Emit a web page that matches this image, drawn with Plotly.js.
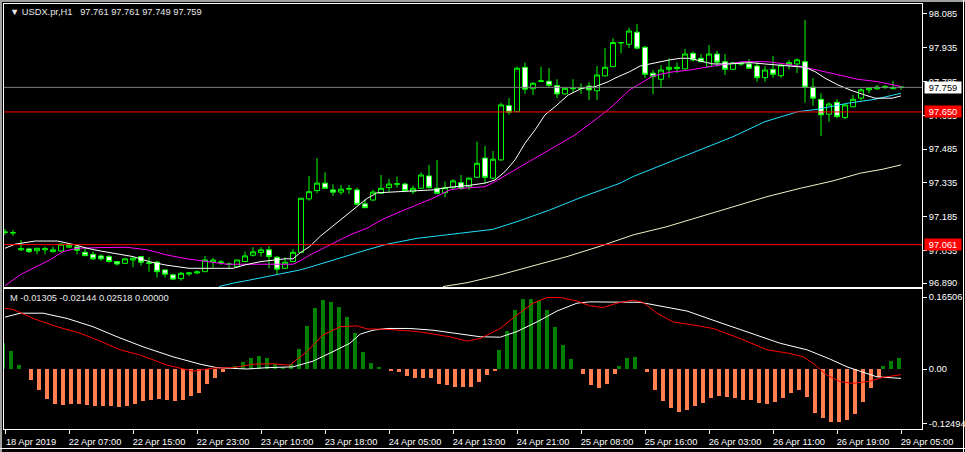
<!DOCTYPE html>
<html><head><meta charset="utf-8">
<script src="https://cdn.plot.ly/plotly-3.0.1.min.js"></script>
<style>html,body{margin:0;padding:0;background:#000;overflow:hidden}#chart{width:965px;height:452px}</style>
</head><body><div id="chart"></div>
<script>
// ---- price data (H1 bars) ----
const opens = [97.115,97.113,97.038,97.042,97.034,97.038,97.030,97.033,97.050,97.051,
97.027,97.018,97.011,97.008,96.986,96.978,96.993,97.008,96.978,96.983,
96.949,96.927,96.910,96.931,96.935,96.941,96.984,96.981,96.973,96.963,
96.986,97.014,97.026,97.038,97.005,96.956,96.986,97.027,97.264,97.301,
97.334,97.304,97.294,97.307,97.304,97.242,97.259,97.289,97.314,97.329,
97.330,97.296,97.311,97.366,97.311,97.292,97.314,97.336,97.318,97.360,
97.445,97.356,97.437,97.678,97.651,97.848,97.753,97.785,97.786,97.767,
97.730,97.753,97.754,97.765,97.744,97.810,97.851,97.956,97.950,98.004,
97.937,97.822,97.795,97.839,97.842,97.841,97.910,97.888,97.851,97.907,
97.873,97.839,97.862,97.863,97.854,97.802,97.839,97.811,97.858,97.863,
97.873,97.760,97.706,97.640,97.693,97.625,97.673,97.711,97.748,97.753,
97.758,97.753,97.761];
const highs = [97.131,97.126,97.082,97.048,97.045,97.052,97.052,97.067,97.067,97.057,
97.045,97.030,97.018,97.015,96.989,97.001,97.005,97.011,97.005,96.989,
96.951,96.931,96.940,96.940,96.947,97.011,97.003,96.993,96.983,96.993,
97.030,97.050,97.050,97.055,97.011,97.005,97.041,97.268,97.366,97.445,
97.382,97.329,97.326,97.326,97.314,97.263,97.304,97.370,97.353,97.363,
97.336,97.322,97.382,97.415,97.437,97.341,97.351,97.370,97.360,97.518,
97.499,97.477,97.691,97.711,97.851,97.869,97.783,97.851,97.844,97.795,
97.756,97.795,97.777,97.782,97.854,97.933,97.977,97.961,98.024,98.041,
97.943,97.836,97.858,97.888,97.869,97.930,97.918,97.907,97.947,97.921,
97.907,97.873,97.873,97.884,97.876,97.854,97.899,97.863,97.881,97.888,
98.058,97.800,97.733,97.693,97.706,97.685,97.725,97.755,97.758,97.770,
97.770,97.788,97.761];
const lows = [97.104,97.100,97.033,97.024,97.018,97.018,97.026,97.030,97.045,97.018,
97.012,96.993,96.990,96.981,96.968,96.975,96.961,96.968,96.941,96.915,
96.915,96.904,96.901,96.922,96.931,96.940,96.959,96.971,96.953,96.962,
96.984,97.008,97.008,96.956,96.931,96.953,96.984,97.024,97.256,97.289,
97.310,97.278,97.282,97.286,97.237,97.225,97.256,97.288,97.296,97.314,
97.294,97.286,97.310,97.311,97.286,97.271,97.304,97.304,97.304,97.359,
97.334,97.351,97.434,97.637,97.650,97.730,97.725,97.782,97.762,97.711,
97.729,97.736,97.730,97.703,97.703,97.807,97.850,97.910,97.935,97.928,
97.800,97.729,97.760,97.802,97.822,97.839,97.873,97.873,97.850,97.851,
97.814,97.836,97.854,97.844,97.784,97.784,97.802,97.802,97.839,97.822,
97.691,97.677,97.543,97.606,97.622,97.618,97.672,97.700,97.733,97.748,
97.752,97.752,97.749];
const closes = [97.117,97.114,97.043,97.030,97.045,97.043,97.038,97.063,97.057,97.036,
97.012,96.998,96.998,96.986,96.975,96.998,97.001,96.983,96.980,96.941,
96.930,96.908,96.934,96.935,96.940,96.993,96.993,96.984,96.975,96.993,
97.011,97.029,97.038,97.008,96.952,96.983,97.027,97.267,97.296,97.334,
97.311,97.294,97.307,97.310,97.240,97.225,97.294,97.311,97.330,97.331,
97.301,97.311,97.370,97.314,97.289,97.314,97.344,97.311,97.356,97.422,
97.360,97.440,97.681,97.649,97.844,97.751,97.777,97.788,97.768,97.730,
97.755,97.755,97.755,97.748,97.814,97.848,97.958,97.958,98.009,97.933,
97.817,97.807,97.836,97.848,97.848,97.907,97.881,97.873,97.907,97.871,
97.839,97.869,97.869,97.844,97.802,97.836,97.817,97.858,97.869,97.881,
97.760,97.711,97.637,97.685,97.629,97.681,97.706,97.748,97.755,97.760,
97.762,97.758,97.759];

// ---- moving averages (bar position, price) ----
const maWhiteX = [0,1.25,3.75,6.6,8.75,10.25,11.9,14,16,18,20,23,28.5,30,32,35,36,36.9,38.1,39.4,41,43.1,45.25,46.5,49.4,51.9,53.5,55.6,57.75,60,61.25,62.5,63.75,65,66.25,67.5,68.75,70.4,72.1,73.75,75.4,76.25,78.1,79.4,81,83.1,84.4,85.6,87.25,88.5,90.6,93.1,95.25,97.5,100,101.25,102.5,104.1,105.9,107.5,108.75,110.9,112];
const maWhiteY = [97.045,97.063,97.077,97.077,97.060,97.045,97.033,97.020,97.008,96.986,96.971,96.956,96.956,96.971,96.986,96.998,96.998,97.025,97.053,97.098,97.144,97.207,97.266,97.291,97.296,97.301,97.304,97.316,97.323,97.334,97.348,97.385,97.437,97.511,97.570,97.637,97.673,97.725,97.755,97.762,97.784,97.800,97.829,97.854,97.866,97.881,97.888,97.888,97.873,97.863,97.863,97.869,97.862,97.854,97.848,97.829,97.800,97.770,97.744,97.725,97.711,97.711,97.721];
const maMagentaX = [0,1.9,3.5,5.6,7.25,9,11.9,15.25,17.75,20.25,22.75,25.25,27.75,31,36,36.9,38.1,39.4,41,43.1,45.25,47.25,49.4,51.5,53.5,55.6,56.9,60,61.25,63.75,66.25,68.75,71.25,73.75,75.6,78.1,79.75,81,83.1,85.6,88.1,92.25,95.25,97.5,100,103.4,106.6,109.1,111.6,112];
const maMagentaY = [96.879,96.927,96.956,96.993,97.030,97.045,97.048,97.049,97.038,97.015,96.998,96.986,96.974,96.974,96.974,96.989,97.015,97.038,97.067,97.104,97.134,97.174,97.207,97.237,97.267,97.304,97.311,97.318,97.341,97.393,97.444,97.496,97.548,97.614,97.666,97.748,97.784,97.810,97.826,97.836,97.851,97.873,97.873,97.863,97.848,97.822,97.795,97.784,97.765,97.763];
const maCyanX = [26.75,28.5,30.6,32.75,34.75,36.9,38.1,41.25,45.25,47.75,51.5,54.4,56.9,61,64,68.1,72.25,76.9,78.5,82.75,86.9,91,95,99.1,101.6,105.4,108.75,112];
const maCyanY = [96.875,96.890,96.904,96.919,96.931,96.949,96.961,96.996,97.038,97.063,97.089,97.101,97.112,97.129,97.163,97.215,97.274,97.334,97.363,97.422,97.481,97.540,97.607,97.651,97.662,97.689,97.706,97.733];
const maBeigeX = [54.75,57.75,61.9,66,70.25,74.4,78.5,82.75,86.9,91,95.25,99.4,103.5,106.9,109.75,112];
const maBeigeY = [96.875,96.892,96.927,96.968,97.008,97.054,97.104,97.141,97.185,97.230,97.274,97.311,97.344,97.378,97.396,97.415];

// ---- horizontal levels ----
const levelValues = [97.759, 97.650, 97.061];
const levelLabels = ['97.759', '97.650', '97.061'];

// ---- MACD-style oscillator ----
const histValues = [0.059,0.041,0.009,-0.025,-0.048,-0.069,-0.080,-0.082,-0.080,-0.080,
-0.083,-0.084,-0.084,-0.084,-0.086,-0.084,-0.080,-0.073,-0.070,-0.069,
-0.071,-0.073,-0.071,-0.063,-0.054,-0.034,-0.020,-0.008,0.003,0.007,
0.015,0.025,0.030,0.026,0.011,0.005,0.011,0.046,0.099,0.139,
0.158,0.153,0.142,0.119,0.082,0.038,0.013,0.005,-0.005,-0.006,
-0.015,-0.021,-0.020,-0.020,-0.035,-0.037,-0.041,-0.042,-0.042,-0.030,
-0.014,-0.005,0.044,0.087,0.135,0.161,0.161,0.156,0.135,0.096,
0.055,0.023,-0.011,-0.037,-0.043,-0.034,-0.011,0.007,0.026,0.028,
-0.008,-0.048,-0.073,-0.090,-0.098,-0.094,-0.084,-0.077,-0.066,-0.061,
-0.065,-0.067,-0.070,-0.071,-0.077,-0.080,-0.075,-0.067,-0.056,-0.047,
-0.065,-0.100,-0.113,-0.121,-0.121,-0.118,-0.103,-0.075,-0.044,-0.018,
0.007,0.019,0.02518];
const oscWhiteX = [0,1.9,4.75,7.75,11,14,17.25,21,24.4,26.5,30.25,32.75,36,38.5,41,43.1,44.4,46,47.75,50.6,53.5,56.9,59.4,61.9,64,66.5,69,71.5,73.1,79.4,82.25,85.25,88.5,92.75,96.9,100.25,103.1,105.25,107.25,109,112];
const oscWhiteY = [0.119,0.128,0.128,0.116,0.097,0.074,0.051,0.028,0.011,0.003,0,0.003,0.005,0.018,0.040,0.059,0.080,0.089,0.093,0.093,0.089,0.080,0.074,0.073,0.086,0.108,0.133,0.151,0.154,0.153,0.143,0.133,0.112,0.086,0.059,0.044,0.023,0.005,-0.008,-0.018,-0.02144];
const oscRedX = [0,1,3.5,6.5,9.4,11.9,14.4,16.9,20.25,23.5,26,28.5,31,33.5,35.6,37.75,39.75,41.9,44,45.25,47.75,51.5,55.6,57.75,59.4,61.9,64,66,67.75,69.4,71.5,73.1,74.75,76.5,78.5,79.75,81.5,83.5,86,88.5,91.9,95.25,98,99.75,101,102.75,104.4,106,108.1,109.75,112];
const oscRedY = [0.139,0.137,0.116,0.097,0.082,0.064,0.044,0.032,0.009,-0.005,0.002,0.003,0.011,0.012,0.009,0.040,0.078,0.097,0.099,0.092,0.091,0.086,0.074,0.064,0.070,0.093,0.124,0.151,0.164,0.164,0.156,0.145,0.141,0.151,0.158,0.153,0.128,0.108,0.101,0.093,0.070,0.044,0.036,0.028,0.013,-0.014,-0.029,-0.033,-0.028,-0.019,-0.01305];

// ---- axis labels ----
const timeTickIdx = [0,8,16,24,32,40,48,56,64,72,80,88,96,104,112];
const timeTickText = ['18 Apr 2019','22 Apr 07:00','22 Apr 15:00','22 Apr 23:00','23 Apr 10:00','23 Apr 18:00','24 Apr 05:00','24 Apr 13:00','24 Apr 21:00','25 Apr 08:00','25 Apr 16:00','26 Apr 03:00','26 Apr 11:00','26 Apr 19:00','29 Apr 05:00'];
const priceTicks = [98.085, 97.935, 97.785, 97.635, 97.485, 97.335, 97.185, 97.035, 96.890];
const priceTickText = ['98.085','97.935','97.785','97.635','97.485','97.335','97.185','97.035','96.890'];
const oscTicks = [0.16506, 0, -0.12494];
const oscTickText = ['0.16506','0.00','-0.12494'];
const headerText = '\u25BC USDX.pr,H1\u00A0\u00A0 97.761 97.761 97.749 97.759';
const oscHeaderText = 'M -0.01305 -0.02144 0.02518 0.00000';

// ---- build ----
const W = 965, H = 452;
const FONT = 'Liberation Sans, Arial, sans-serif';
const idx = opens.map((_, i) => i);
const xDom = [4 / W, 922 / W];
const xRange = [-0.125, 114.625];

const traces = [
  {type:'candlestick', x: idx, open: opens, high: highs, low: lows, close: closes,
   xaxis:'x', yaxis:'y', whiskerwidth: 0, hoverinfo:'skip',
   increasing:{line:{color:'#00ff00', width:1}, fillcolor:'#000000'},
   decreasing:{line:{color:'#00ff00', width:1}, fillcolor:'#ffffff'}},
  {type:'scatter', mode:'lines', x: maBeigeX, y: maBeigeY, line:{color:'#f5f0c8', width:1}, xaxis:'x', yaxis:'y'},
  {type:'scatter', mode:'lines', x: maCyanX, y: maCyanY, line:{color:'#22e0ff', width:1}, xaxis:'x', yaxis:'y'},
  {type:'scatter', mode:'lines', x: maMagentaX, y: maMagentaY, line:{color:'#ff00ff', width:1}, xaxis:'x', yaxis:'y'},
  {type:'scatter', mode:'lines', x: maWhiteX, y: maWhiteY, line:{color:'#ffffff', width:1}, xaxis:'x', yaxis:'y'},
  {type:'bar', x: idx, y: histValues.map(v => v > 0 ? v : null), width: 0.45,
   marker:{color:'#008000', line:{width:0}}, xaxis:'x2', yaxis:'y2'},
  {type:'bar', x: idx, y: histValues.map(v => v < 0 ? v : null), width: 0.45,
   marker:{color:'#ff7f50', line:{width:0}}, xaxis:'x2', yaxis:'y2'},
  {type:'scatter', mode:'lines', x: oscWhiteX, y: oscWhiteY, line:{color:'#ffffff', width:1}, xaxis:'x2', yaxis:'y2'},
  {type:'scatter', mode:'lines', x: oscRedX, y: oscRedY, line:{color:'#ff0000', width:1}, xaxis:'x2', yaxis:'y2'}
];

const levelColors = ['#808080', '#ff0000', '#ff0000'];
const shapes = levelValues.map((v, k) => ({
  type:'line', xref:'paper', x0: xDom[0], x1: xDom[1], yref:'y', y0: v, y1: v,
  line:{color: levelColors[k], width:1}, layer:'above'
}));
// window frame
shapes.push({type:'line', xref:'paper', yref:'paper', x0:0, x1:1, y0:1-1/H, y1:1-1/H, line:{color:'#a0a0a0', width:2}});
shapes.push({type:'line', xref:'paper', yref:'paper', x0:1/W, x1:1/W, y0:0, y1:1, line:{color:'#a0a0a0', width:2}});
shapes.push({type:'line', xref:'paper', yref:'paper', x0:963.5/W, x1:963.5/W, y0:0, y1:1, line:{color:'#ffffff', width:1}});
shapes.push({type:'line', xref:'paper', yref:'paper', x0:0, x1:1, y0:1-448.5/H, y1:1-448.5/H, line:{color:'#ffffff', width:1}});

const boxBg = ['#ffffff', '#ff0000', '#ff0000'];
const boxFg = ['#000000', '#ffffff', '#ffffff'];
const annotations = levelValues.map((v, k) => ({
  xref:'paper', x: 924 / W, xanchor:'left', yref:'y', y: v, yanchor:'middle',
  text: levelLabels[k], showarrow:false, bgcolor: boxBg[k], borderpad:0,
  width: 36, height: 11, align:'center',
  font:{family: FONT, size: 9.3, color: boxFg[k]}
}));
annotations.push({xref:'paper', yref:'paper', x: 8 / W, y: 1 - 12 / H, xanchor:'left', yanchor:'middle',
  text: headerText, showarrow:false, font:{family: FONT, size: 9.3, color:'#e8e8e8'}});
annotations.push({xref:'paper', yref:'paper', x: 8 / W, y: 1 - 298 / H, xanchor:'left', yanchor:'middle',
  text: oscHeaderText, showarrow:false, font:{family: FONT, size: 9.3, color:'#e8e8e8'}});

const axBase = {showgrid:false, zeroline:false, showline:true, mirror:true, linecolor:'#ffffff', linewidth:1, fixedrange:true};
const layout = {
  width: W, height: H, paper_bgcolor:'#000000', plot_bgcolor:'#000000',
  margin:{l:0, r:0, t:0, b:0}, showlegend:false, hovermode:false,
  font:{family: FONT, size: 9.3, color:'#ffffff'},
  boxgap: 0.375, boxgroupgap: 0, bargap: 0,
  xaxis: Object.assign({}, axBase, {domain: xDom, range: xRange, anchor:'y', showticklabels:false, ticks:'', rangeslider:{visible:false}}),
  yaxis: Object.assign({}, axBase, {domain:[1 - 287 / H, 1 - 4 / H], range:[96.873, 98.129], anchor:'x', side:'right',
    ticks:'outside', ticklen:4, tickcolor:'#ffffff', tickvals: priceTicks, ticktext: priceTickText,
    tickfont:{family: FONT, size: 9.3, color:'#ffffff'}}),
  xaxis2: Object.assign({}, axBase, {domain: xDom, range: xRange, anchor:'y2', ticks:'outside', ticklen:4, tickcolor:'#ffffff',
    tickvals: timeTickIdx, ticktext: timeTickText, ticklabelshift: 26, tickangle: 0,
    tickfont:{family: FONT, size: 9.3, color:'#ffffff'}}),
  yaxis2: Object.assign({}, axBase, {domain:[1 - 429 / H, 1 - 289 / H], range:[-0.1376, 0.1835], anchor:'x2', side:'right',
    ticks:'outside', ticklen:4, tickcolor:'#ffffff', tickvals: oscTicks, ticktext: oscTickText,
    tickfont:{family: FONT, size: 9.3, color:'#ffffff'}}),
  shapes: shapes,
  annotations: annotations
};

Plotly.newPlot('chart', traces, layout, {staticPlot:true, displayModeBar:false});
</script>
</body></html>
